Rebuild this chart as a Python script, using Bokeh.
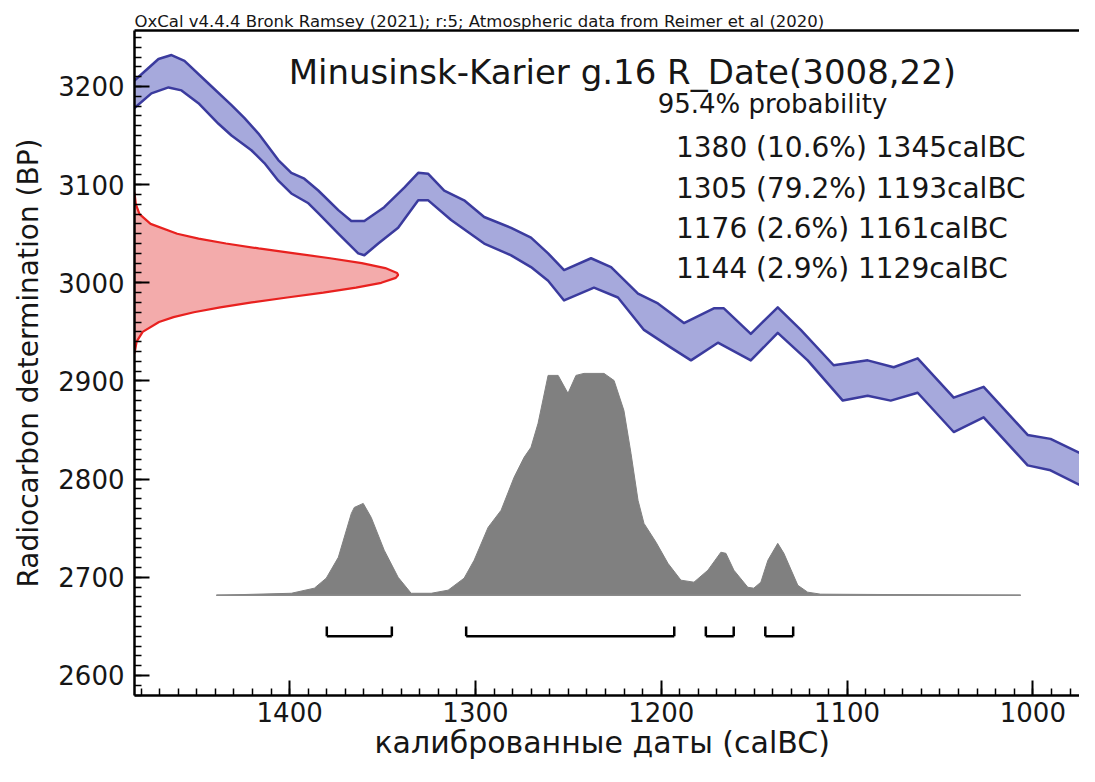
from bokeh.plotting import figure
from bokeh.models import Range1d, SingleIntervalTicker, LinearAxis, FixedTicker, Label, Title
from bokeh.embed import file_html
from bokeh.resources import INLINE

# ---------------- data ----------------
# calibration curve (IntCal20) band, upper edge
cal_upper_year = [1483.5, 1470.6, 1463.6, 1456.6, 1443.7, 1431.3, 1424.4, 1416.8, 1406.1, 1399.1,
                  1392.1, 1384.6, 1373.8, 1366.8, 1359.8, 1349.1, 1338.3, 1330.8, 1325.4, 1316.8,
                  1306.1, 1295.3, 1280.8, 1270.1, 1260.9, 1252.3, 1237.8, 1227.0, 1212.5, 1201.8,
                  1187.8, 1171.7, 1166.3, 1151.8, 1137.3, 1124.9, 1107.2, 1088.9, 1074.9, 1062.0,
                  1042.6, 1026.5, 1002.8, 990.5, 966.3]
cal_upper_bp = [3206, 3228, 3232, 3226, 3203, 3181, 3168, 3152, 3125, 3112,
                3106, 3094, 3074, 3063, 3063, 3077, 3097, 3112, 3111, 3094,
                3084, 3067, 3056, 3046, 3030, 3013, 3025, 3016, 2989, 2979,
                2959, 2974, 2974, 2948, 2975, 2952, 2916, 2921, 2914, 2923,
                2883, 2894, 2845, 2841, 2819]
# calibration curve band, lower edge
cal_lower_year = [1483.5, 1474.4, 1465.2, 1458.2, 1449.1, 1438.3, 1431.3, 1420.6, 1413.6, 1406.1,
                  1399.1, 1389.9, 1384.6, 1373.8, 1363.1, 1359.8, 1352.3, 1341.6, 1330.8, 1325.4,
                  1313.1, 1295.3, 1280.8, 1270.1, 1260.9, 1252.3, 1236.2, 1223.3, 1209.3, 1194.8,
                  1184.0, 1169.5, 1151.8, 1137.3, 1121.2, 1102.3, 1088.9, 1076.5, 1062.0, 1042.6,
                  1026.5, 1002.8, 990.5, 966.3]
cal_lower_bp = [3178, 3193, 3199, 3196, 3183, 3162, 3150, 3135, 3122, 3104,
                3091, 3081, 3071, 3050, 3030, 3028, 3040, 3056, 3084, 3084,
                3064, 3040, 3028, 3016, 3002, 2982, 2995, 2985, 2952, 2934,
                2921, 2939, 2921, 2949, 2921, 2880, 2885, 2880, 2888, 2848,
                2863, 2814, 2809, 2786]

# radiocarbon date R_Date(3008,22): relative density along the BP axis
rdate_bp = [3092, 3080, 3070, 3060, 3050, 3045, 3040, 3035, 3030, 3025, 3020, 3015, 3010, 3008,
            3005, 3000, 2995, 2990, 2985, 2980, 2975, 2970, 2965, 2960, 2950, 2940, 2928]
rdate_density = [0.0, 0.005, 0.019, 0.061, 0.162, 0.243, 0.347, 0.471, 0.607, 0.742, 0.862, 0.951,
                 0.996, 1.0, 0.991, 0.936, 0.84, 0.716, 0.579, 0.445, 0.325, 0.225, 0.148, 0.093,
                 0.031, 0.008, 0.0]

# calibrated date: relative probability along calBC axis
cal_year = [1439.4, 1399.1, 1386.7, 1380.3, 1373.8, 1366.8, 1365.2, 1360.4, 1356.1, 1349.1,
            1341.6, 1334.6, 1323.8, 1314.7, 1306.1, 1300.7, 1293.2, 1286.2, 1279.2, 1273.8,
            1270.1, 1266.3, 1260.9, 1255.5, 1250.2, 1245.9, 1241.6, 1230.8, 1225.4, 1220.1,
            1216.3, 1212.5, 1209.3, 1202.8, 1196.4, 1189.4, 1182.4, 1174.9, 1167.9, 1165.2,
            1160.9, 1153.4, 1150.2, 1146.4, 1142.6, 1137.3, 1134.0, 1126.5, 1121.2, 1114.2,
            1006.6]
cal_density = [0.0, 0.009, 0.032, 0.077, 0.171, 0.369, 0.396, 0.414, 0.351, 0.203,
               0.081, 0.009, 0.009, 0.023, 0.077, 0.158, 0.306, 0.383, 0.532, 0.622,
               0.667, 0.775, 0.991, 0.991, 0.91, 0.991, 1.0, 1.0, 0.968, 0.833,
               0.64, 0.428, 0.324, 0.239, 0.144, 0.068, 0.059, 0.113, 0.194, 0.189,
               0.113, 0.036, 0.032, 0.059, 0.158, 0.234, 0.189, 0.045, 0.014, 0.005,
               0.0]

# 95.4% highest posterior density ranges
hpd_from = [1380, 1305, 1176, 1144]
hpd_to = [1345, 1193, 1161, 1129]
hpd_prob = [10.6, 79.2, 2.6, 2.9]

title_text = "Minusinsk-Karier g.16 R_Date(3008,22)"
header_text = "OxCal v4.4.4 Bronk Ramsey (2021); r:5; Atmospheric data from Reimer et al (2020)"
prob_text = "95.4% probability"
x_title = "калиброванные даты  (calBC)"
y_title = "Radiocarbon determination (BP)"

# ---------------- styling / layout constants ----------------
FONT = "DejaVu Sans"
X0, X1 = 1483.5, 974.9
Y0, Y1 = 2579.6, 3257.0
RDATE_WIDTH = 141.9      # years for density 1.0 of the red curve
CAL_BASE = 2681.7        # BP baseline of the grey distribution
CAL_HEIGHT = 226.0       # BP units for density 1.0
BR_Y = 2640.0
BR_TICK = 10.0

BAND_FILL = "#a6a9dc"
BAND_LINE = "#3b3b9e"
RED_FILL = "#f3abab"
RED_LINE = "#e8211f"
GREY = "#808080"
TXT = "#161616"

p = figure(width=1079, height=766,
           x_range=Range1d(X0, X1), y_range=Range1d(Y0, Y1),
           output_backend="svg", toolbar_location=None,
           min_border_left=134, min_border_right=0, min_border_top=30, min_border_bottom=71,
           background_fill_color="white", border_fill_color="white",
           outline_line_color=None)
p.xgrid.visible = False
p.ygrid.visible = False

# calibration band
band_x = cal_upper_year + cal_lower_year[::-1]
band_y = cal_upper_bp + cal_lower_bp[::-1]
p.patch(band_x, band_y, fill_color=BAND_FILL, line_color=None)
p.line(cal_upper_year, cal_upper_bp, line_color=BAND_LINE, line_width=2.5, line_join="round")
p.line(cal_lower_year, cal_lower_bp, line_color=BAND_LINE, line_width=2.5, line_join="round")

# radiocarbon measurement (red)
red_x = [X0 - d * RDATE_WIDTH for d in rdate_density]
p.patch([X0] + red_x + [X0], [rdate_bp[0]] + rdate_bp + [rdate_bp[-1]],
        fill_color=RED_FILL, line_color=None)
p.line(red_x, rdate_bp, line_color=RED_LINE, line_width=2.2)

# calibrated distribution (grey)
cal_y = [CAL_BASE + d * CAL_HEIGHT for d in cal_density]
p.patch(cal_year, cal_y, fill_color=GREY, line_color=GREY, line_width=1)
p.line([cal_year[0], cal_year[-1]], [CAL_BASE, CAL_BASE], line_color="#8a8a8a", line_width=1.5)

# HPD brackets
br_y = [BR_Y] * len(hpd_from)
br_top = [BR_Y + BR_TICK] * len(hpd_from)
p.segment(x0=hpd_from, y0=br_y, x1=hpd_to, y1=br_y, line_color="black", line_width=2.5)
p.segment(x0=hpd_from, y0=br_y, x1=hpd_from, y1=br_top, line_color="black", line_width=2.5)
p.segment(x0=hpd_to, y0=br_y, x1=hpd_to, y1=br_top, line_color="black", line_width=2.5)

# axes
p.xaxis.ticker = SingleIntervalTicker(interval=100, num_minor_ticks=10)
p.yaxis.ticker = SingleIntervalTicker(interval=100, num_minor_ticks=10)
for ax in (p.xaxis[0], p.yaxis[0]):
    ax.axis_line_color = "black"
    ax.axis_line_width = 2.5
    ax.major_tick_in = 15
    ax.major_tick_out = 0
    ax.minor_tick_in = 7
    ax.minor_tick_out = 0
    ax.major_tick_line_width = 2
    ax.minor_tick_line_width = 1.5
    ax.major_tick_line_color = "black"
    ax.minor_tick_line_color = "black"
    ax.major_label_text_font = FONT
    ax.major_label_text_font_size = "26px"
    ax.major_label_text_color = TXT
    ax.axis_label_text_font = FONT
    ax.axis_label_text_font_style = "normal"
    ax.axis_label_text_color = TXT
p.xaxis.axis_label = x_title
p.xaxis.axis_label_text_font_size = "30px"
p.xaxis.major_label_standoff = 6
p.xaxis.axis_label_standoff = 0
p.yaxis.axis_label = y_title
p.yaxis.axis_label_text_font_size = "28px"
p.yaxis.major_label_standoff = 10
p.yaxis.axis_label_standoff = 10

top = LinearAxis(ticker=FixedTicker(ticks=[]), major_label_text_font_size="0px",
                 axis_line_color="black", axis_line_width=2.5,
                 major_tick_in=0, major_tick_out=0, minor_tick_in=0, minor_tick_out=0)
p.add_layout(top, "above")

# header line above the frame
p.add_layout(Title(text=header_text, align="left", offset=0, standoff=0,
                   text_font=FONT, text_font_size="16.5px", text_font_style="normal",
                   text_color=TXT), "above")

# texts inside the frame
p.add_layout(Label(x=1400.5, y=3214.3, text=title_text, text_font=FONT,
                   text_font_size="34px", text_color=TXT, text_baseline="alphabetic"))
p.add_layout(Label(x=1201.9, y=3182.4, text=prob_text, text_font=FONT,
                   text_font_size="26px", text_color=TXT, text_baseline="alphabetic"))
line_y = [3137.6, 3095.8, 3055.1, 3014.4]
for a, pr, b, ly in zip(hpd_from, hpd_prob, hpd_to, line_y):
    p.add_layout(Label(x=1192.1, y=ly, text=f"{a} ({pr}%) {b}calBC", text_font=FONT,
                       text_font_size="28px", text_color=TXT, text_baseline="alphabetic"))

open("out.html", "w").write(file_html(p, INLINE))
